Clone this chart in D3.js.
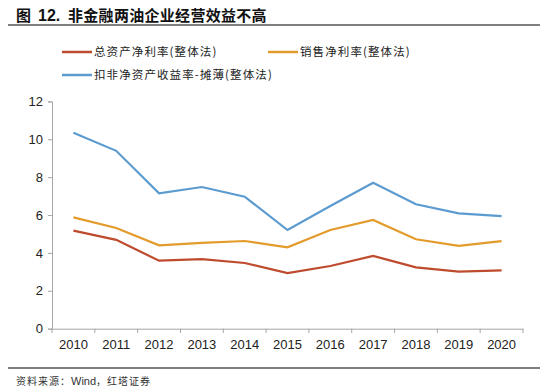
<!DOCTYPE html>
<html><head><meta charset="utf-8">
<script src="https://cdn.jsdelivr.net/npm/d3@7"></script>
<style>body{margin:0;background:#fff}svg{display:block}</style>
</head><body>
<script>
const years = ["2010","2011","2012","2013","2014","2015","2016","2017","2018","2019","2020"];
const roa = [5.18,4.69,3.59,3.67,3.47,2.94,3.31,3.84,3.24,3.01,3.08];
const netMargin = [5.88,5.32,4.40,4.53,4.63,4.30,5.21,5.74,4.72,4.37,4.62];
const roe = [10.35,9.39,7.15,7.48,6.97,5.21,6.48,7.71,6.57,6.09,5.94];
const seriesNames = ["总资产净利率(整体法)","销售净利率(整体法)","扣非净资产收益率-摊薄(整体法)"];
const yTicks = [0,2,4,6,8,10,12];

const W=550,H=392;
const svg=d3.select("body").append("svg").attr("width",W).attr("height",H);
const cjk='"Noto Sans CJK SC", sans-serif';
const lat='"Liberation Sans", Arial, sans-serif';

const title=svg.append("text").attr("y",21).attr("font-family",cjk).attr("font-weight","bold")
  .attr("font-size",15).attr("fill","#111");
title.append("tspan").attr("x",16).text("图");
title.append("tspan").attr("x",38).attr("font-family",lat).attr("font-size",16).text("12.");
title.append("tspan").attr("x",68).attr("letter-spacing",0.3).text("非金融两油企业经营效益不高");
svg.append("line").attr("x1",8).attr("x2",540).attr("y1",25).attr("y2",25).attr("stroke","#555").attr("stroke-width",1.5);
svg.append("line").attr("x1",8).attr("x2",540).attr("y1",368).attr("y2",368).attr("stroke","#555").attr("stroke-width",1.5);
const src=svg.append("text").attr("x",16).attr("y",385).attr("font-family",cjk).attr("font-size",10).attr("fill","#333");
src.append("tspan").attr("letter-spacing",1).text("资料来源：");
src.append("tspan").attr("font-family",lat).attr("font-size",11).text("Wind");
src.append("tspan").attr("letter-spacing",1).text("，红塔证券");

const x=d3.scaleBand().domain(years).range([52,523]);
const y=d3.scaleLinear().domain([0,12]).range([328.7,101.4]);

const colors=["#BE4B2E","#E39B2B","#5B9BD0"];
const data=[roa,netMargin,roe];

const yAxis=svg.append("g").attr("transform","translate(52,0)")
  .call(d3.axisLeft(y).tickValues(yTicks).tickSize(4).tickPadding(5));
const xAxis=svg.append("g").attr("transform","translate(0,328.7)")
  .call(d3.axisBottom(x).tickSize(0).tickPadding(11));
const bounds=years.map(d=>x(d)).concat([x.range()[1]]);
svg.append("g").selectAll("line").data(bounds).join("line")
  .attr("x1",d=>d).attr("x2",d=>d).attr("y1",328.7).attr("y2",333).attr("stroke","#A6A6A6");
[yAxis,xAxis].forEach(g=>{
  g.select(".domain").attr("stroke","#A6A6A6");
  g.selectAll(".tick line").attr("stroke","#A6A6A6");
  g.selectAll("text").attr("font-family",lat).attr("font-size",13).attr("fill","#222");
});

const line=d3.line().x((d,i)=>x(years[i])+x.bandwidth()/2).y(d=>y(d));
data.forEach((s,i)=>{
  svg.append("path").datum(s).attr("d",line).attr("fill","none").attr("stroke",colors[i]).attr("stroke-width",2.2);
});

const leg=[{x:62,y:52},{x:268,y:52},{x:62,y:75}];
leg.forEach((p,i)=>{
  svg.append("line").attr("x1",p.x).attr("x2",p.x+30).attr("y1",p.y).attr("y2",p.y).attr("stroke",colors[i]).attr("stroke-width",2.5);
  svg.append("text").attr("x",p.x+32).attr("y",p.y+4).attr("font-family",cjk).attr("font-size",11.5)
    .attr("letter-spacing",1.1).attr("fill","#222").text(seriesNames[i]);
});
</script>
</body></html>
